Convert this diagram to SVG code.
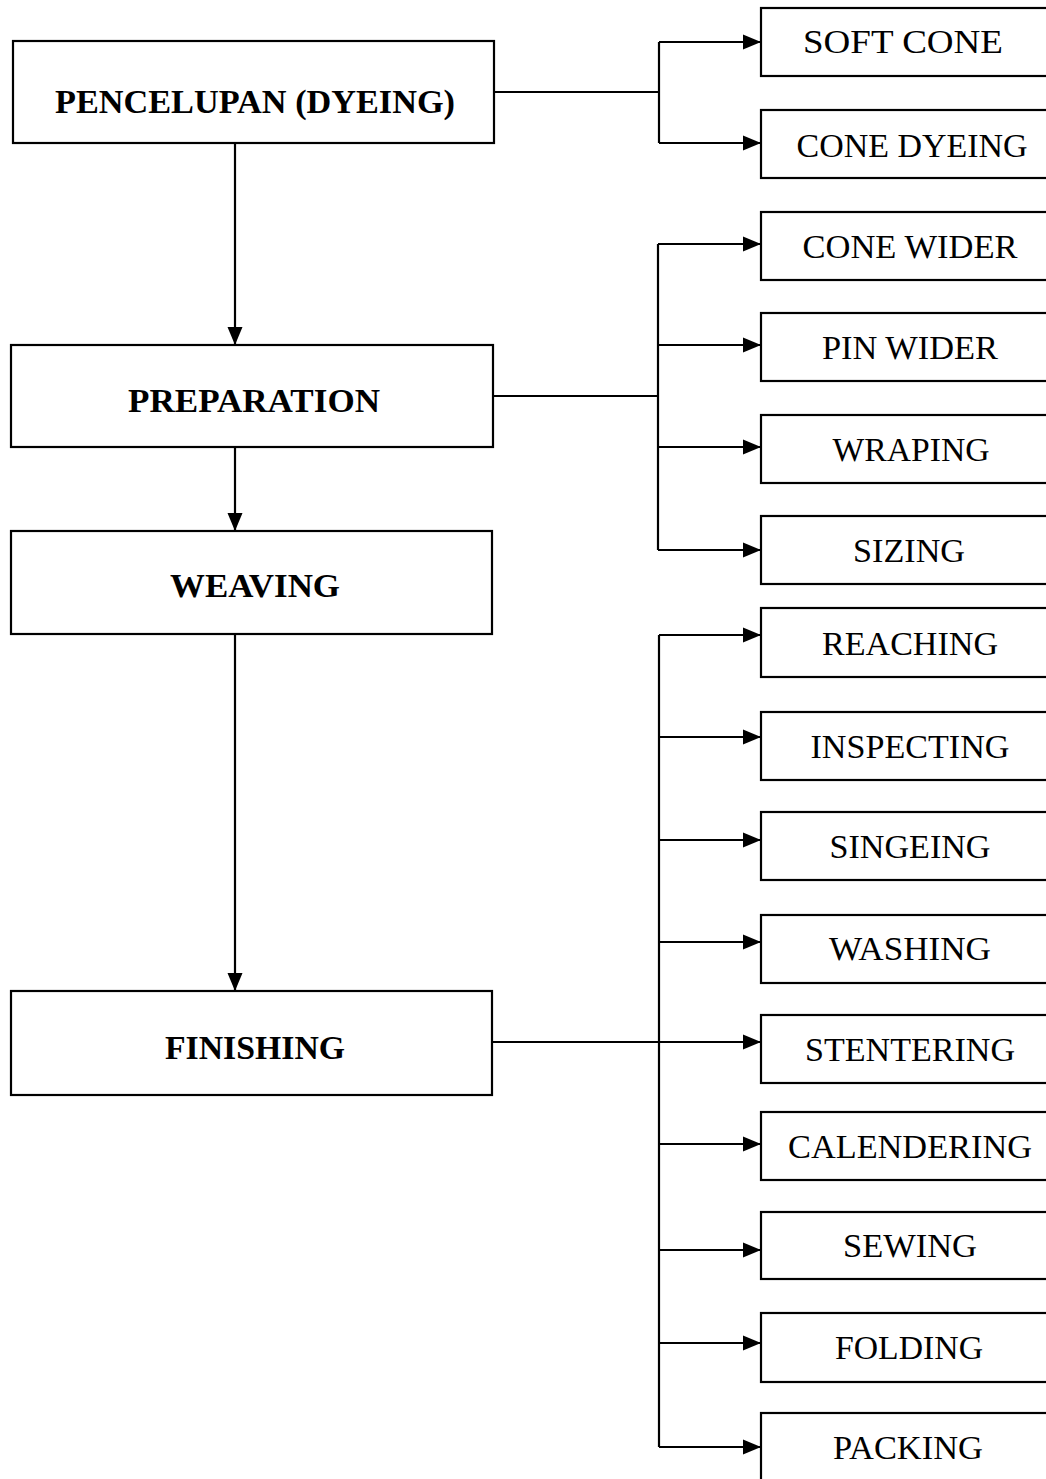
<svg xmlns="http://www.w3.org/2000/svg" width="1046" height="1479" viewBox="0 0 1046 1479">
<style>
.box{fill:#fff;stroke:#000;stroke-width:2.2}
.main{font-family:"Liberation Serif","Times New Roman",serif;font-weight:bold;font-size:34px;fill:#000;text-anchor:middle}
.sub{font-family:"Liberation Serif","Times New Roman",serif;font-size:33px;fill:#000;text-anchor:middle}
.ln{fill:none;stroke:#000;stroke-width:2.2}
</style>
<defs>
<marker id="ah" markerUnits="userSpaceOnUse" markerWidth="20" markerHeight="18" refX="18" refY="8" orient="auto">
<path d="M0,0.5 L18,8 L0,15.5 Z" fill="#000"/>
</marker>
</defs>
<rect width="1046" height="1479" fill="#fff"/>
<g id="connectors">
<path class="ln" d="M494,92 H659"/>
<path class="ln" d="M659,42 V143"/>
<path class="ln" d="M659,42 H761" marker-end="url(#ah)"/>
<path class="ln" d="M659,143 H761" marker-end="url(#ah)"/>
<path class="ln" d="M493,396 H658"/>
<path class="ln" d="M658,244 V550"/>
<path class="ln" d="M658,244 H761" marker-end="url(#ah)"/>
<path class="ln" d="M658,345 H761" marker-end="url(#ah)"/>
<path class="ln" d="M658,447 H761" marker-end="url(#ah)"/>
<path class="ln" d="M658,550 H761" marker-end="url(#ah)"/>
<path class="ln" d="M493,1042 H659"/>
<path class="ln" d="M659,635 V1447"/>
<path class="ln" d="M659,635 H761" marker-end="url(#ah)"/>
<path class="ln" d="M659,737 H761" marker-end="url(#ah)"/>
<path class="ln" d="M659,840 H761" marker-end="url(#ah)"/>
<path class="ln" d="M659,942 H761" marker-end="url(#ah)"/>
<path class="ln" d="M659,1042 H761" marker-end="url(#ah)"/>
<path class="ln" d="M659,1144 H761" marker-end="url(#ah)"/>
<path class="ln" d="M659,1250 H761" marker-end="url(#ah)"/>
<path class="ln" d="M659,1343 H761" marker-end="url(#ah)"/>
<path class="ln" d="M659,1447 H761" marker-end="url(#ah)"/>
<path class="ln" d="M235,143 V345" marker-end="url(#ah)"/>
<path class="ln" d="M235,447 V531" marker-end="url(#ah)"/>
<path class="ln" d="M235,634 V991" marker-end="url(#ah)"/>
</g>
<g id="n-dyeing"><rect class="box" x="13" y="41" width="481" height="102"/><text class="main" x="255" y="113" textLength="400" lengthAdjust="spacingAndGlyphs">PENCELUPAN (DYEING)</text></g>
<g id="n-preparation"><rect class="box" x="11" y="345" width="482" height="102"/><text class="main" x="254" y="412" textLength="252" lengthAdjust="spacingAndGlyphs">PREPARATION</text></g>
<g id="n-weaving"><rect class="box" x="11" y="531" width="481" height="103"/><text class="main" x="255" y="597" textLength="170" lengthAdjust="spacingAndGlyphs">WEAVING</text></g>
<g id="n-finishing"><rect class="box" x="11" y="991" width="481" height="104"/><text class="main" x="255" y="1059" textLength="180" lengthAdjust="spacingAndGlyphs">FINISHING</text></g>
<g id="n-softcone"><rect class="box" x="761" y="8" width="300" height="68"/><text class="sub" x="903" y="53" textLength="200" lengthAdjust="spacingAndGlyphs">SOFT CONE</text></g>
<g id="n-conedyeing"><rect class="box" x="761" y="110" width="300" height="68"/><text class="sub" x="912" y="157" textLength="231" lengthAdjust="spacingAndGlyphs">CONE DYEING</text></g>
<g id="n-conewider"><rect class="box" x="761" y="212" width="300" height="68"/><text class="sub" x="910" y="258" textLength="215" lengthAdjust="spacingAndGlyphs">CONE WIDER</text></g>
<g id="n-pinwider"><rect class="box" x="761" y="313" width="300" height="68"/><text class="sub" x="910" y="359" textLength="176" lengthAdjust="spacingAndGlyphs">PIN WIDER</text></g>
<g id="n-wraping"><rect class="box" x="761" y="415" width="300" height="68"/><text class="sub" x="911" y="461" textLength="157" lengthAdjust="spacingAndGlyphs">WRAPING</text></g>
<g id="n-sizing"><rect class="box" x="761" y="516" width="300" height="68"/><text class="sub" x="909" y="562" textLength="112" lengthAdjust="spacingAndGlyphs">SIZING</text></g>
<g id="n-reaching"><rect class="box" x="761" y="608" width="300" height="69"/><text class="sub" x="910" y="655" textLength="176" lengthAdjust="spacingAndGlyphs">REACHING</text></g>
<g id="n-inspecting"><rect class="box" x="761" y="712" width="300" height="68"/><text class="sub" x="910" y="758" textLength="199" lengthAdjust="spacingAndGlyphs">INSPECTING</text></g>
<g id="n-singeing"><rect class="box" x="761" y="812" width="300" height="68"/><text class="sub" x="910" y="858" textLength="161" lengthAdjust="spacingAndGlyphs">SINGEING</text></g>
<g id="n-washing"><rect class="box" x="761" y="915" width="300" height="68"/><text class="sub" x="910" y="960" textLength="162" lengthAdjust="spacingAndGlyphs">WASHING</text></g>
<g id="n-stentering"><rect class="box" x="761" y="1015" width="300" height="68"/><text class="sub" x="910" y="1061" textLength="210" lengthAdjust="spacingAndGlyphs">STENTERING</text></g>
<g id="n-calendering"><rect class="box" x="761" y="1112" width="300" height="68"/><text class="sub" x="910" y="1158" textLength="244" lengthAdjust="spacingAndGlyphs">CALENDERING</text></g>
<g id="n-sewing"><rect class="box" x="761" y="1212" width="300" height="67"/><text class="sub" x="910" y="1257" textLength="134" lengthAdjust="spacingAndGlyphs">SEWING</text></g>
<g id="n-folding"><rect class="box" x="761" y="1313" width="300" height="69"/><text class="sub" x="909" y="1359" textLength="148" lengthAdjust="spacingAndGlyphs">FOLDING</text></g>
<g id="n-packing"><rect class="box" x="761" y="1413" width="300" height="80"/><text class="sub" x="908" y="1459" textLength="150" lengthAdjust="spacingAndGlyphs">PACKING</text></g>
</svg>
